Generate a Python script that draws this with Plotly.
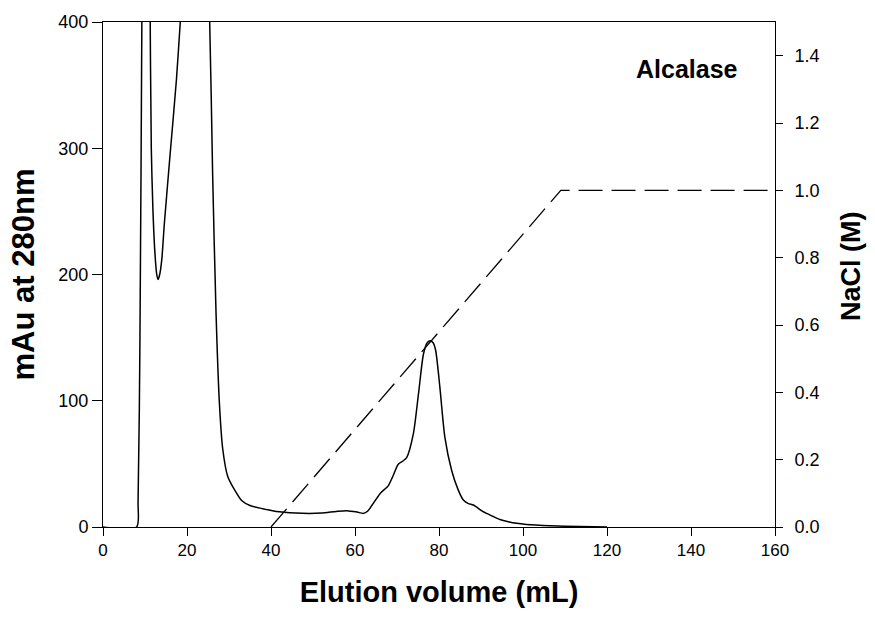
import plotly.graph_objects as go

# Chromatogram (absorbance at 280 nm) vs elution volume
volume_ml = [0, 8.0, 8.35, 8.8, 9.25, 9.6, 10.3, 10.9, 11.2, 11.5, 11.9, 12.4, 12.8, 13.1, 13.5,
             14.0, 14.6, 16.0, 17.5, 18.4, 20, 22, 24, 25.4, 26.1, 26.9, 27.7, 28.5, 29.7, 31.4,
             33, 35, 38, 42, 47.5, 52, 55.5, 58, 60.5, 62, 63, 64, 66, 67.9, 69, 70.3,
             71.5, 72.3, 73.9, 75.1, 76.3, 77.2, 77.9, 78.6, 79.2, 80.2, 81.4, 83, 84.5,
             85.8, 87, 88.2, 90.5, 92.8, 94.5, 96.5, 98.5, 100.8, 103, 106.4, 110, 117, 120]
absorbance_mau = [0, 0, 20, 150, 400, 600, 800, 600, 420, 300, 250, 215, 200, 196, 200,
                  212, 240, 296, 355, 400, 480, 550, 520, 400, 280, 171, 99, 62, 40, 29,
                  21, 17, 14.5, 12, 10.8, 11, 12.3, 12.9, 11.8, 10.8, 12.5, 17, 26.6, 32.6, 40, 49.7,
                  52.5, 55, 74, 105, 137, 146, 147.5, 146, 140, 111, 71, 45, 30,
                  21.3, 18.5, 17.4, 12.1, 8.5, 6, 4.2, 2.9, 2, 1.5, 1, 0.6, 0.2, 0]

# NaCl gradient
nacl_volume_ml = [40, 109, 160]
nacl_molar = [0.0, 1.0, 1.0]

x_ticks = [0, 20, 40, 60, 80, 100, 120, 140, 160]
y_ticks = [0, 100, 200, 300, 400]
y2_ticks = [0.0, 0.2, 0.4, 0.6, 0.8, 1.0, 1.2, 1.4]

FONT = "Liberation Sans, Arial, sans-serif"

fig = go.Figure()
fig.add_trace(go.Scatter(x=volume_ml, y=absorbance_mau, mode="lines",
                         line=dict(color="black", width=1.5, shape="spline", smoothing=0.7),
                         yaxis="y", showlegend=False, hoverinfo="skip"))
fig.add_trace(go.Scatter(x=nacl_volume_ml, y=nacl_molar, mode="lines",
                         line=dict(color="black", width=1.3, dash="24px,9px"), yaxis="y2",
                         showlegend=False, hoverinfo="skip"))

axis_common = dict(showline=True, linecolor="black", linewidth=1, ticks="outside",
                   tickcolor="black", tickwidth=1, showgrid=False, zeroline=False)

plot_w = 875 - 103 - 100
plot_h = 623 - 20 - 96

fig.update_layout(
    width=875, height=623,
    margin=dict(l=103, r=100, t=20, b=96),
    paper_bgcolor="white", plot_bgcolor="white",
    xaxis=dict(range=[0, 160], tickvals=x_ticks, ticklen=8, mirror=True,
               tickfont=dict(family=FONT, size=17, color="black"),
               title=dict(text="Elution volume (mL)", standoff=22,
                          font=dict(family=FONT, size=29, color="black", weight="bold")),
               **axis_common),
    yaxis=dict(range=[0, 400], tickvals=y_ticks, ticklen=10,
               tickfont=dict(family=FONT, size=18, color="black"),
               title=dict(text="mAu at 280nm", standoff=14,
                          font=dict(family=FONT, size=31, color="black", weight="bold")),
               **axis_common),
    yaxis2=dict(range=[0, 1.5], tickvals=y2_ticks, tickformat=".1f", ticklen=7,
                ticklabelstandoff=8, overlaying="y", side="right",
                tickfont=dict(family=FONT, size=18, color="black"),
                **axis_common),
    annotations=[
        dict(x=151.7, y=363, xref="x", yref="y", text="<b>Alcalase</b>",
             showarrow=False, xanchor="right", yanchor="middle",
             font=dict(family=FONT, size=25, color="black")),
        dict(x=(851 - 103) / plot_w, y=(623 - 96 - 265) / plot_h, xref="paper", yref="paper",
             text="<b>NaCl (M)</b>", showarrow=False, textangle=-90,
             xanchor="center", yanchor="middle",
             font=dict(family=FONT, size=27, color="black")),
    ],
)

fig.write_html("out.html")
